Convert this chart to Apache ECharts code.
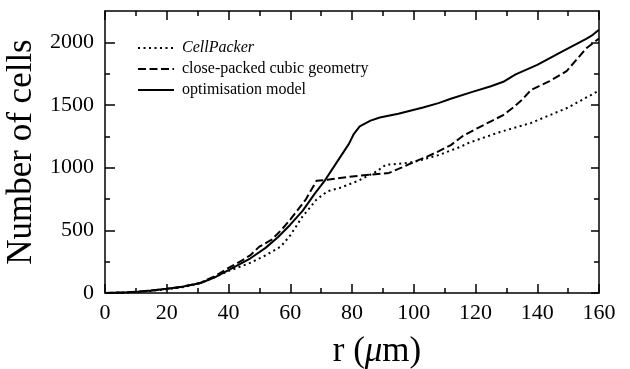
<!DOCTYPE html>
<html>
<head>
<meta charset="utf-8">
<script src="https://cdn.jsdelivr.net/npm/echarts@6/dist/echarts.min.js"></script>
<style>
  html, body { margin: 0; padding: 0; background: #fff; }
  #chart { width: 630px; height: 369px; }
</style>
</head>
<body>
<div id="chart"></div>
<script>
// r (um) and number of cells
var rCellPacker = [0, 5, 10, 15, 20, 25, 30, 35, 40, 47, 52, 57, 60, 64, 68.5, 72, 76, 82, 88, 91, 95, 100, 108, 115, 118, 128, 138, 150, 160];
var vCellPacker = [0, 2, 7, 17, 30, 46, 72, 120, 175, 240, 300, 372, 460, 611, 745, 811, 838, 895, 970, 1024, 1030, 1045, 1100, 1165, 1200, 1285, 1357, 1480, 1615];

var rCubic = [0, 5, 10, 15, 20, 25, 31, 36, 40, 44, 47, 50, 54, 57, 60, 65, 68.5, 72, 80, 86, 92, 96, 100, 104, 108, 112, 116, 121, 125, 129, 132, 135, 138, 144, 149.5, 153, 156, 160];
var vCubic = [0, 3, 10, 20, 33, 50, 82, 140, 200, 255, 300, 370, 425, 500, 585, 745, 895, 903, 930, 945, 958, 1000, 1045, 1085, 1130, 1180, 1255, 1320, 1370, 1420, 1476, 1540, 1620, 1690, 1770, 1870, 1955, 2030];

var rOpt = [0, 5, 10, 15, 20, 25, 31, 36, 40, 47, 52, 56, 60, 64, 68, 71, 75, 79, 80.5, 82.5, 86, 89, 95, 103, 108, 112, 119, 125, 129, 133, 140, 148, 156, 158, 160];
var vOpt = [0, 3, 9, 20, 33, 50, 80, 130, 182, 275, 360, 445, 545, 655, 795, 890, 1040, 1190, 1265, 1330, 1375, 1400, 1430, 1480, 1515, 1550, 1605, 1650, 1685, 1745, 1820, 1925, 2030, 2060, 2100];

var seriesNames = ["CellPacker", "close-packed cubic geometry", "optimisation model"];
var yMajor = [0, 500, 1000, 1500, 2000];
var yMinor = [250, 750, 1250, 1750];

var font = "Liberation Serif";

function pairs(xs, ys) {
  var out = [];
  for (var i = 0; i < xs.length; i++) out.push([xs[i], ys[i]]);
  return out;
}

var chart = echarts.init(document.getElementById("chart"));

function xAx(pos, labels) {
  return {
    type: "value", position: pos, min: 0, max: 160, interval: 20,
    axisLine: { show: true, onZero: false, lineStyle: { color: "#000", width: 1.5 } },
    axisTick: { show: true, inside: true, length: 9, lineStyle: { color: "#000", width: 1.5 } },
    minorTick: { show: true, splitNumber: 2, length: 5, lineStyle: { color: "#000", width: 1.5 } },
    splitLine: { show: false },
    axisLabel: { show: labels, color: "#000", fontFamily: font, fontSize: 22, margin: 9 },
    name: labels ? "r ({it|\u03bc}m)" : "",
    nameLocation: "middle",
    nameGap: 41,
    nameTextStyle: {
      color: "#000", fontFamily: font, fontSize: 35, padding: [0, 0, 0, 50],
      rich: { it: { fontStyle: "italic", fontFamily: font, fontSize: 35, color: "#000" } }
    }
  };
}

function yAx(pos, ticks, len, labels, line) {
  return {
    type: "value", position: pos, min: 0, max: 2250,
    axisLine: { show: line, onZero: false, lineStyle: { color: "#000", width: 1.5 } },
    axisTick: { show: true, inside: true, length: len, customValues: ticks, lineStyle: { color: "#000", width: 1.5 } },
    splitLine: { show: false },
    axisLabel: {
      show: labels, customValues: ticks, color: "#000", fontFamily: font, fontSize: 22, margin: 11,
      formatter: function (v) { return String(v); }
    },
    name: labels ? "Number of cells" : "",
    nameLocation: "middle",
    nameGap: 66,
    nameTextStyle: { color: "#000", fontFamily: font, fontSize: 35 }
  };
}

var option = {
  backgroundColor: "#fff",
  animation: false,
  grid: { left: 105, right: 31, top: 11, bottom: 76, outerBoundsMode: "none" },
  legend: {
    data: seriesNames,
    orient: "vertical",
    left: 132,
    top: 35,
    itemWidth: 36,
    itemHeight: 14,
    itemGap: 5,
    itemStyle: { opacity: 0 },
    formatter: function (name) {
      return name === "CellPacker" ? "{it|CellPacker}" : name;
    },
    textStyle: {
      color: "#000", fontFamily: font, fontSize: 16, lineHeight: 16, padding: [0, 0, 0, 3],
      rich: { it: { fontStyle: "italic", fontFamily: font, fontSize: 16, color: "#000" } }
    }
  },
  xAxis: [xAx("bottom", true), xAx("top", false)],
  yAxis: [
    yAx("left", yMajor, 10, true, true),
    yAx("left", yMinor, 5, false, false),
    yAx("right", yMajor, 8, false, true),
    yAx("right", yMinor, 5, false, false)
  ],
  series: [
    {
      name: seriesNames[0], type: "line", symbol: "none",
      data: pairs(rCellPacker, vCellPacker),
      lineStyle: { color: "#000", width: 2, type: [2, 3.5] },
      itemStyle: { color: "#000" }
    },
    {
      name: seriesNames[1], type: "line", symbol: "none",
      data: pairs(rCubic, vCubic),
      lineStyle: { color: "#000", width: 2, type: [8, 3.5] },
      itemStyle: { color: "#000" }
    },
    {
      name: seriesNames[2], type: "line", symbol: "none",
      data: pairs(rOpt, vOpt),
      lineStyle: { color: "#000", width: 2 },
      itemStyle: { color: "#000" }
    }
  ]
};

chart.setOption(option);
</script>
</body>
</html>
